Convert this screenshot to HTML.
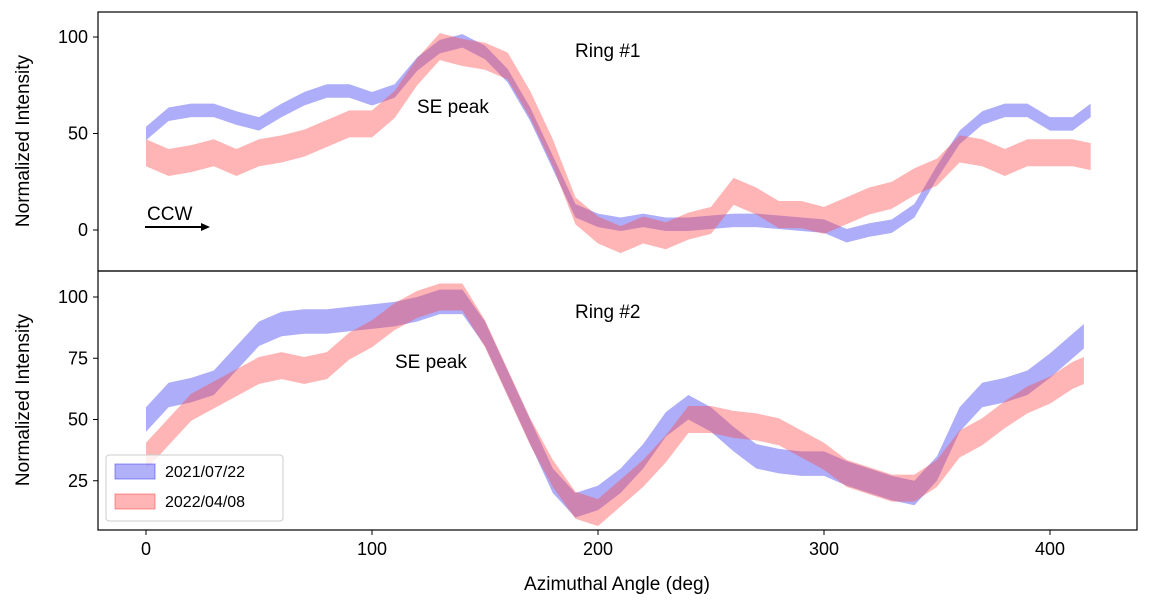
<!DOCTYPE html>
<html><head><meta charset="utf-8"><style>
body{margin:0;background:#fff;}
svg text{font-family:"Liberation Sans","DejaVu Sans",sans-serif;fill:#000;}
</style></head><body>
<svg id="chart" width="1153" height="608" xmlns="http://www.w3.org/2000/svg">
<g id="p1"></g>
<g id="p2"></g>
<rect x="98" y="12" width="1039" height="259" fill="none" stroke="#000" stroke-width="1.2"/>
<rect x="98" y="271" width="1039" height="259" fill="none" stroke="#000" stroke-width="1.2"/>
<g id="ticks"></g>
<text x="617" y="590" font-size="19" text-anchor="middle">Azimuthal Angle (deg)</text>
<text transform="translate(29,141) rotate(-90)" font-size="19" text-anchor="middle">Normalized Intensity</text>
<text transform="translate(29,400) rotate(-90)" font-size="19" text-anchor="middle">Normalized Intensity</text>
<text x="575" y="57" font-size="19">Ring #1</text>
<text x="417" y="113" font-size="19">SE peak</text>
<text x="147" y="220" font-size="19">CCW</text>
<g><line x1="145" y1="227" x2="204" y2="227" stroke="#000" stroke-width="2"/><polygon points="210,227 201,223 201,231" fill="#000"/></g>
<text x="575" y="318" font-size="19">Ring #2</text>
<text x="395" y="368" font-size="19">SE peak</text>
<g>
<rect x="106" y="455" width="177" height="66" rx="3" fill="#fff" fill-opacity="0.8" stroke="#ccc"/>
<rect x="115" y="464" width="40" height="15" fill="rgba(60,60,240,0.4)" stroke="rgba(60,60,240,0.55)"/>
<text x="165" y="477" font-size="16">2021/07/22</text>
<rect x="115" y="494" width="40" height="15" fill="rgba(255,70,70,0.4)" stroke="rgba(255,70,70,0.55)"/>
<text x="165" y="507" font-size="16">2022/04/08</text>
</g>
</svg>
<script>
const angles=[0,10,20,30,40,50,60,70,80,90,100,110,120,130,140,150,160,170,180,190,200,210,220,230,240,250,260,270,280,290,300,310,320,330,340,350,360,370,380,390,400,410,418];
const r1Blue=[50,60,62,62,58,55,62,68,72,72,68,72,86,95,98,92,80,60,35,10,5,3,5,3,3,4,5,5,4,3,2,-3,0,2,10,30,48,58,62,62,55,55,62];
const r1Red=[40,35,37,40,35,40,42,45,50,55,55,65,82,95,92,90,85,65,40,10,0,-5,0,-3,2,5,20,15,8,8,5,10,15,18,25,30,42,40,35,40,40,40,38];
const r1BlueHW=3.5, r1RedHW=7;
const angles2=[0,10,20,30,40,50,60,70,80,90,100,110,120,130,140,150,160,170,180,190,200,210,220,230,240,250,260,270,280,290,300,310,320,330,340,350,360,370,380,390,400,410,415];
const r2Blue=[50,60,62,65,75,85,89,90,90,91,92,93,95,98,98,85,65,45,25,15,18,25,35,48,55,50,42,35,33,32,32,28,25,22,20,30,50,60,62,65,72,80,84];
const r2Red=[35,45,55,60,65,70,72,70,72,80,85,92,97,100,100,85,65,45,28,15,12,20,28,38,50,50,48,47,45,40,35,28,25,22,22,28,40,45,52,58,62,68,70];
const r2BlueHW=5, r2RedHW=5.5;
const xTicks=[0,100,200,300,400];
const y1Ticks=[0,50,100];
const y2Ticks=[25,50,75,100];
const X=a=>146+a*2.26;
const Y1=v=>230-v*1.93;
const Y2=v=>297+(100-v)*2.45;
const NS="http://www.w3.org/2000/svg";
function band(g,xs,c,hw,Y,fill,name){
  let up=xs.map((a,i)=>X(a)+","+Y(c[i]+hw));
  let lo=xs.map((a,i)=>X(a)+","+Y(c[i]-hw)).reverse();
  const p=document.createElementNS(NS,"polygon");
  p.setAttribute("points",up.concat(lo).join(" "));
  p.setAttribute("fill",fill);
  
  
  g.appendChild(p);
}
const p1=document.getElementById("p1"),p2=document.getElementById("p2");
band(p1,angles,r1Blue,r1BlueHW,Y1,"rgba(60,60,240,0.42)","ring1-band-2021");
band(p1,angles,r1Red,r1RedHW,Y1,"rgba(255,70,70,0.4)","ring1-band-2022");
band(p2,angles2,r2Blue,r2BlueHW,Y2,"rgba(60,60,240,0.42)","ring2-band-2021");
band(p2,angles2,r2Red,r2RedHW,Y2,"rgba(255,70,70,0.4)","ring2-band-2022");
const t=document.getElementById("ticks");
function line(x1,y1,x2,y2){const l=document.createElementNS(NS,"line");l.setAttribute("x1",x1);l.setAttribute("y1",y1);l.setAttribute("x2",x2);l.setAttribute("y2",y2);l.setAttribute("stroke","#000");t.appendChild(l);}
function txt(x,y,s,anc){const e=document.createElementNS(NS,"text");e.setAttribute("x",x);e.setAttribute("y",y);e.setAttribute("font-size","18");e.setAttribute("text-anchor",anc);e.textContent=s;t.appendChild(e);}
xTicks.forEach(a=>{line(X(a),530,X(a),535);txt(X(a),555,a,"middle");});
y1Ticks.forEach(v=>{line(93,Y1(v),98,Y1(v));txt(88,Y1(v)+6,v,"end");});
y2Ticks.forEach(v=>{line(93,Y2(v),98,Y2(v));txt(88,Y2(v)+6,v,"end");});
</script>
</body></html>
